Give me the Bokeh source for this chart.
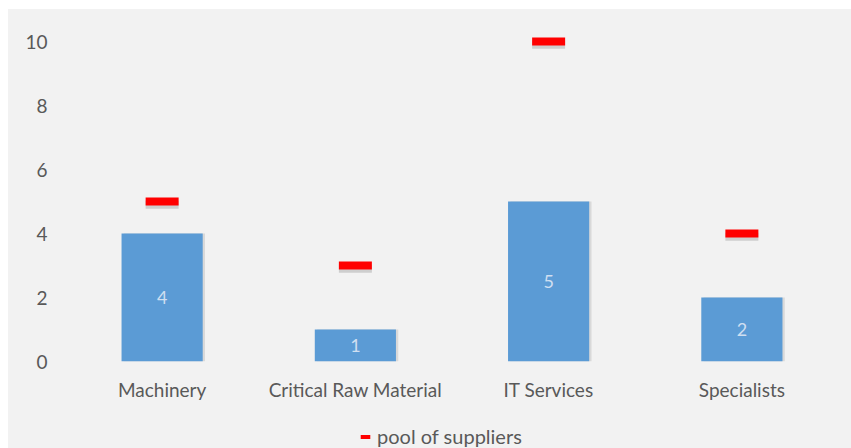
from bokeh.plotting import figure
from bokeh.models import ColumnDataSource, Legend, LegendItem, Range1d
from bokeh.layouts import column
from bokeh.core.properties import value
from bokeh.transform import dodge
from bokeh.embed import file_html
from bokeh.resources import INLINE

categories = ["Machinery", "Critical Raw Material", "IT Services", "Specialists"]
bar_values = [4, 1, 5, 2]
pool_values = [5, 3, 10, 4]
bar_labels = ["4", "1", "5", "2"]
series_name = "pool of suppliers"

src = ColumnDataSource(dict(
    cat=categories,
    val=bar_values,
    mid=[v / 2 for v in bar_values],
    lab=bar_labels,
    pool=pool_values,
))

FONT = "Lato"
GRAY = "#595959"
BG = "#f2f2f2"

p = figure(x_range=categories, y_range=Range1d(0, 10.5), width=843, height=405,
           output_backend="svg", toolbar_location=None,
           background_fill_color=BG, border_fill_color=BG,
           min_border_left=57, min_border_right=13, min_border_top=16, min_border_bottom=53)
p.outline_line_color = None
p.grid.visible = False

# bar shadows
p.vbar(x=dodge("cat", 0.012, range=p.x_range), top="val", bottom=0, width=0.42, source=src,
       fill_color="#000000", fill_alpha=0.10, line_color=None)
p.vbar(x="cat", top="val", width=0.42, source=src, fill_color="#5b9bd5", line_color=None)
p.text(x="cat", y="mid", text="lab", source=src, text_align="center", text_baseline="middle",
       text_color="#cfdff1", text_font_size="18px", text_font=value(FONT))

# pool markers with shadow
p.rect(x="cat", y=dodge("pool", -0.1), width=33, height=8, width_units="screen", height_units="screen",
       source=src, fill_color="#000000", fill_alpha=0.15, line_color=None)
p.rect(x="cat", y="pool", width=33, height=8, width_units="screen", height_units="screen",
       source=src, fill_color="#ff0000", line_color=None)

p.yaxis.ticker = [0, 2, 4, 6, 8, 10]
for ax in (p.xaxis[0], p.yaxis[0]):
    ax.axis_line_color = None
    ax.major_tick_line_color = None
    ax.minor_tick_line_color = None
    ax.major_label_text_color = GRAY
    ax.major_label_text_font = FONT
    ax.major_label_text_font_size = "19px"
p.yaxis.major_label_standoff = 12
p.xaxis.major_label_standoff = 10

# legend strip below the chart
lp = figure(width=843, height=34, x_range=Range1d(0, 1), y_range=Range1d(0, 1),
            x_axis_type=None, y_axis_type=None,
            output_backend="svg", toolbar_location=None,
            background_fill_color=BG, border_fill_color=BG,
            min_border_left=0, min_border_right=0, min_border_top=0, min_border_bottom=0)
lp.outline_line_color = None
lp.grid.visible = False
# proxy renderer (outside the visible range) that only supplies the legend glyph
lr = lp.rect(x=[-5], y=[-5], width=33, height=8, width_units="screen", height_units="screen",
             fill_color="#ff0000", line_color=None)
legend = Legend(items=[LegendItem(label=series_name, renderers=[lr])],
                orientation="horizontal", location=(294, 0),
                background_fill_alpha=0, border_line_color=None,
                label_text_font=FONT, label_text_font_size="20px", label_text_color=GRAY,
                glyph_width=12, glyph_height=5, label_standoff=6, padding=0, margin=0)
lp.add_layout(legend, "center")

layout = column(p, lp, spacing=0)
layout.margin = (9, 0, 0, 8)
layout.styles = {"background-color": BG}
open("out.html", "w").write(file_html(layout, INLINE))
